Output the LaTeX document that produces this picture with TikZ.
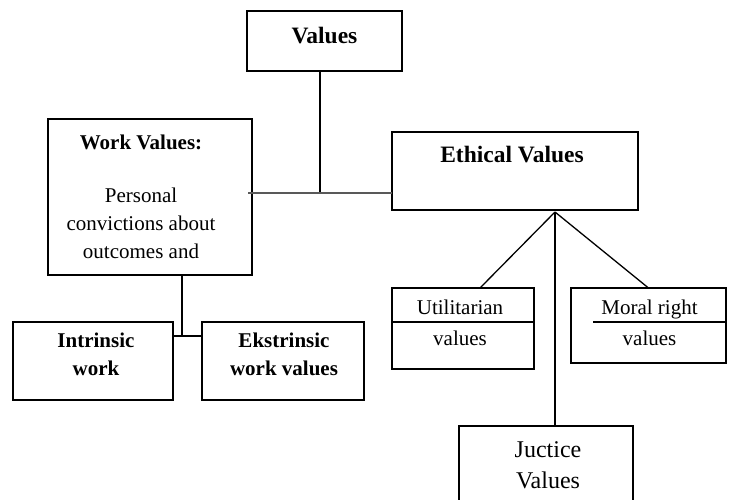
\documentclass[tikz,border=0pt]{standalone}
\usepackage{fontspec}
\setmainfont{Liberation Serif}
\usetikzlibrary{calc}

\begin{document}
\begin{tikzpicture}[x=1pt,y=-1pt,
box/.style={draw, line width=2.2pt, inner sep=0pt, outer sep=0pt, anchor=center},
txt/.style={align=center, inner sep=0pt, font=\fontsize{21}{28}\selectfont},
boldtxt/.style={txt, font=\fontsize{21}{28}\selectfont\bfseries},
head/.style={txt, font=\fontsize{23.5}{28}\selectfont\bfseries},
link/.style={line width=2.2pt}]
\useasboundingbox (0,0) rectangle (731,499);
\clip (0,0) rectangle (731,499);

% boxes
\node[box, line width=1.5pt, minimum width=155pt, minimum height=60pt] (values) at (324.5,41) {};
\draw[line width=2.4pt] ([xshift=3pt]values.south west) -- ([xshift=1pt]values.south east);
\node[box, minimum width=204pt, minimum height=156pt] (work) at (150,197) {};
\node[box, line width=2pt, minimum width=246pt, minimum height=78pt] (ethical) at (515,171) {};
\node[box, minimum width=160pt, minimum height=78pt] (intrinsic) at (93,361) {};
\node[box, minimum width=162pt, minimum height=78pt] (ekstrinsic) at (283,361) {};
\node[box, line width=2pt, minimum width=142pt, minimum height=81pt] (util) at (463,328.5) {};
\draw[line width=2pt] ([yshift=-34pt]util.north west) -- ([yshift=-34pt]util.north east);
\node[box, line width=2pt, minimum width=155pt, minimum height=75pt] (moral) at (648.5,325.5) {};
\draw[line width=2pt] ([xshift=22pt,yshift=-34pt]moral.north west) -- ([yshift=-34pt]moral.north east);
\node[box, line width=1.2pt, minimum width=174pt, minimum height=120pt] (juctice) at (546,486) {};
\draw[line width=2.2pt] ([xshift=-1pt]juctice.north west) -- (juctice.north east);

% texts
\node[head] (valuestxt) at (324.5,36) {Values};
\node[head] (ethicaltxt) at (512,155) {Ethical Values};
\node[txt] (worktxt) at (141,197) {\textbf{Work Values:}\\[25pt]Personal\\convictions about\\outcomes and};
\node[boldtxt] (intrinsictxt) at (96,354) {Intrinsic\\work};
\node[boldtxt] (ekstrinsictxt) at (284,354) {Ekstrinsic\\work values};
\node[txt, font=\fontsize{21}{31}\selectfont] (utiltxt) at (460,323) {Utilitarian\\values};
\node[txt, font=\fontsize{21}{31}\selectfont] (moraltxt) at (649.5,323) {Moral right\\values};
\node[txt, font=\fontsize{24}{31}\selectfont] (juctxt) at (548,465) {Juctice\\Values};

% connectors
\coordinate (hub) at (320,193);
\draw[link] (values.south -| hub) -- (hub);
\draw[link, black!65] ($(work.east |- hub)+(-4,0)$) -- (ethical.west |- hub);
\coordinate (wjoin) at (182,336);
\draw[link] (work.south -| wjoin) -- (wjoin);
\draw[link] (intrinsic.east |- wjoin) -- (ekstrinsic.west |- wjoin);
\coordinate (ejoin) at (555,212);
\draw[line width=1.3pt] ([xshift=17pt]util.north) -- (ejoin);
\draw[line width=1.3pt] (ejoin) -- (moral.north);
\draw[link] (ejoin) -- (ejoin |- juctice.north);
\end{tikzpicture}
\end{document}
